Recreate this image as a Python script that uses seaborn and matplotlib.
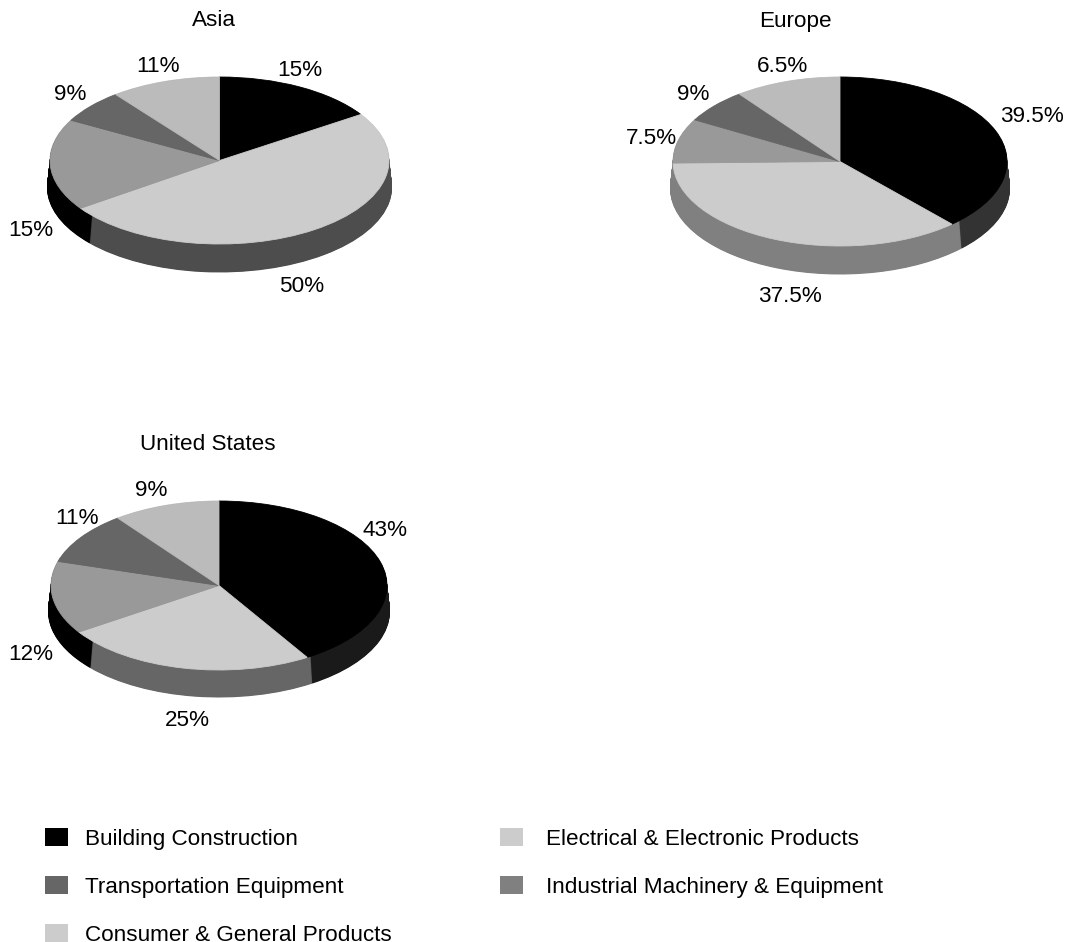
import matplotlib
matplotlib.use("Agg")
import matplotlib.pyplot as plt
from matplotlib.patches import Patch
import seaborn as sns

sns.set_theme(style="white")
plt.rcParams["font.family"] = ["Liberation Sans", "DejaVu Sans"]

W, H = 1067, 942
FONT = 16.2

# -------------------------------------------------
# Data
# -------------------------------------------------
left_categories = ["Building Construction", "Transportation Equipment", "Consumer & General Products"]
right_categories = ["Electrical & Electronic Products", "Industrial Machinery & Equipment"]
left_colors = ["#000000", "#666666", "#cccccc"]
right_colors = ["#cccccc", "#808080"]

# slice sizes as drawn (Europe's drawing does not follow its printed labels)
asia_sizes = [15.7, 49.6, 17.7, 6.5, 10.5]
europe_sizes = [38.3, 36.4, 8.5, 6.5, 10.3]
us_sizes = [41.2, 24.5, 13.9, 10.1, 10.3]

asia_labels = ["15%", "50%", "15%", "9%", "11%"]
europe_labels = ["39.5%", "37.5%", "7.5%", "9%", "6.5%"]
us_labels = ["43%", "25%", "12%", "11%", "9%"]

# where the rim changes colour
asia_rim_sizes = [15.7, 47.9, 19.4, 6.5, 10.5]
europe_rim_sizes = [37.3, 37.4, 8.5, 6.5, 10.3]
us_rim_sizes = [40.8, 22.8, 16.0, 10.1, 10.3]

top_colors = ["#000000", "#cccccc", "#999999", "#666666", "#bbbbbb"]
asia_rim = ["#000000", "#4d4d4d", "#000000", "#000000", "#000000"]
europe_rim = ["#333333", "#808080", "#808080", "#808080", "#808080"]
us_rim = ["#1a1a1a", "#666666", "#000000", "#000000", "#000000"]


# -------------------------------------------------
# Tilted pie: a stack of darker pies under the top one
# -------------------------------------------------
def tilted_pie(fig, cx, cy, rx, ry, sizes, colors, rim_sizes, rim_colors, depth=27, grow=3):
    ax = fig.add_axes([(cx - rx * 1.2) / W, 1 - (cy + ry * 1.6) / H, rx * 2.4 / W, ry * 2.8 / H])
    for i in range(depth * 2, 0, -1):
        t = i / (depth * 2)
        ax.pie(rim_sizes, colors=rim_colors, startangle=90, counterclock=False,
               center=(0, -depth / ry * t), radius=1 + grow / rx * t,
               wedgeprops={"linewidth": 0})
    wedges, _ = ax.pie(sizes, colors=colors, startangle=90, counterclock=False)
    # same colour outline, so the rim does not show through the seams
    for w in wedges:
        w.set_edgecolor(w.get_facecolor())
        w.set_linewidth(0.6)
    ax.set_aspect("auto")
    ax.set_xlim(-1.2, 1.2)
    ax.set_ylim(-1.6, 1.2)
    ax.axis("off")
    return ax


def put_text(fig, x, y, s):
    fig.text(x / W, 1 - y / H, s, ha="center", va="center", fontsize=FONT, color="black")


def put_labels(fig, labels, positions):
    for s, (x, y) in zip(labels, positions):
        put_text(fig, x, y, s)


def put_legend(fig, names, colors, x, pad):
    handles = [Patch(facecolor=c, edgecolor="none", label=n) for n, c in zip(names, colors)]
    fig.legend(handles=handles, loc="upper left", bbox_to_anchor=(x / W, 1 - 828 / H),
               frameon=False, fontsize=FONT, labelcolor="black", borderpad=0, borderaxespad=0,
               handlelength=1.02, handleheight=0.84, handletextpad=pad, labelspacing=1.17)


fig = plt.figure(figsize=(W / 100, H / 100), dpi=100, facecolor="white")

tilted_pie(fig, 219.5, 160.5, 169.5, 83.5, asia_sizes, top_colors, asia_rim_sizes, asia_rim)
tilted_pie(fig, 840, 161.5, 167, 84.5, europe_sizes, top_colors, europe_rim_sizes, europe_rim)
tilted_pie(fig, 219, 585.5, 168, 84.5, us_sizes, top_colors, us_rim_sizes, us_rim, depth=26)

put_text(fig, 214, 21, "Asia")
put_text(fig, 795, 21, "Europe")
put_text(fig, 208, 444, "United States")

put_labels(fig, asia_labels, [(300, 70), (302, 287), (31, 230), (70, 94), (158, 67)])
put_labels(fig, europe_labels, [(1032, 117), (790, 297), (651, 138), (693, 94), (783, 67)])
put_labels(fig, us_labels, [(385, 531), (187, 721), (31, 654), (77, 518), (151, 490)])

put_legend(fig, left_categories, left_colors, 45, 0.76)
put_legend(fig, right_categories, right_colors, 500, 1.02)

fig.savefig("out.png", dpi=100)
